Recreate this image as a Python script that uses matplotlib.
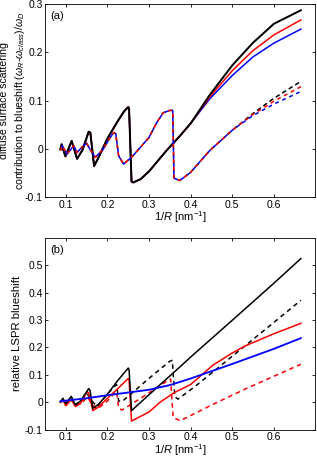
import numpy as np
import matplotlib
matplotlib.use('Agg')
import matplotlib.pyplot as plt

plt.rcParams['font.family'] = ['Liberation Sans', 'DejaVu Sans']
plt.rcParams['font.size'] = 7.5
plt.rcParams['mathtext.fontset'] = 'custom'
plt.rcParams['mathtext.rm'] = 'Liberation Sans'
plt.rcParams['mathtext.it'] = 'Liberation Sans:italic'

# ---------- panel (a): diffuse surface scattering contribution ----------
# solid curves (identical up to 1/R = 0.4)
xa_s = [0.087, 0.090, 0.099, 0.114, 0.127, 0.140, 0.155, 0.159, 0.168, 0.180, 0.200,
        0.225, 0.240, 0.250, 0.252, 0.258, 0.262, 0.280, 0.300, 0.342, 0.374, 0.400,
        0.446, 0.500, 0.549, 0.600, 0.665]
ya_s_common = [0.0, 0.010, -0.015, 0.017, -0.020, -0.002, 0.036, 0.034, -0.035, -0.015, 0.022,
               0.058, 0.078, 0.087, 0.085, -0.067, -0.069, -0.062, -0.046, -0.003, 0.027, 0.053]
ya_s_black_tail = [0.112, 0.173, 0.219, 0.259, 0.287]
ya_s_red_tail = [0.108, 0.162, 0.203, 0.236, 0.267]
ya_s_blue_tail = [0.104, 0.152, 0.190, 0.219, 0.248]

# dashed curves (identical up to 1/R = 0.5)
xa_d = [0.087, 0.091, 0.103, 0.119, 0.127, 0.140, 0.150, 0.158, 0.171, 0.190, 0.205,
        0.215, 0.220, 0.227, 0.239, 0.260, 0.300, 0.318, 0.334, 0.350, 0.357, 0.360,
        0.374, 0.400, 0.446, 0.500, 0.549, 0.600, 0.665]
ya_d_common = [-0.003, 0.007, -0.010, 0.007, -0.007, 0.005, 0.012, 0.0, -0.017, 0.0, 0.022,
               0.034, 0.032, -0.014, -0.031, -0.015, 0.024, 0.054, 0.075, 0.080, 0.080, -0.060,
               -0.065, -0.048, -0.003, 0.039]
ya_d_black_tail = [0.073, 0.105, 0.140]
ya_d_red_tail = [0.071, 0.099, 0.129]
ya_d_blue_tail = [0.069, 0.093, 0.119]

# ---------- panel (b): relative LSPR blueshift ----------
xb_k = [0.087, 0.093, 0.100, 0.113, 0.123, 0.135, 0.155, 0.158, 0.165, 0.180, 0.200,
        0.225, 0.250, 0.252, 0.258, 0.300, 0.374, 0.400, 0.500, 0.600, 0.665]
yb_k = [0.002, 0.015, -0.004, 0.022, -0.010, 0.005, 0.050, 0.045, -0.022, -0.005, 0.030,
        0.080, 0.125, 0.120, -0.030, 0.028, 0.129, 0.165, 0.299, 0.434, 0.524]

xb_kd = [0.087, 0.093, 0.100, 0.113, 0.123, 0.140, 0.152, 0.160, 0.175, 0.200, 0.215,
         0.222, 0.227, 0.235, 0.260, 0.294, 0.330, 0.350, 0.356, 0.362, 0.370, 0.414,
         0.500, 0.600, 0.665]
yb_kd = [0.0, 0.012, -0.005, 0.018, -0.008, 0.010, 0.030, 0.010, -0.015, 0.030, 0.055,
         0.065, 0.005, 0.003, 0.035, 0.080, 0.125, 0.150, 0.153, 0.020, 0.012, 0.062,
         0.168, 0.291, 0.372]

xb_r = [0.087, 0.093, 0.100, 0.113, 0.123, 0.135, 0.151, 0.155, 0.165, 0.180, 0.200,
        0.225, 0.250, 0.252, 0.258, 0.300, 0.326, 0.360, 0.400, 0.453, 0.500, 0.533,
        0.600, 0.665]
yb_r = [0.0, 0.008, -0.012, 0.010, -0.015, -0.005, 0.039, 0.035, -0.030, -0.015, 0.015,
        0.050, 0.087, 0.082, -0.068, -0.035, 0.0, 0.035, 0.065, 0.135, 0.180, 0.207,
        0.250, 0.288]

xb_rd = [0.087, 0.093, 0.100, 0.113, 0.123, 0.140, 0.152, 0.160, 0.175, 0.200, 0.215,
         0.222, 0.227, 0.235, 0.280, 0.320, 0.346, 0.352, 0.358, 0.375, 0.450, 0.533,
         0.600, 0.665]
yb_rd = [0.0, 0.008, -0.012, 0.010, -0.012, 0.0, 0.020, 0.0, -0.025, 0.005, 0.030,
         0.040, -0.020, -0.028, 0.015, 0.055, 0.080, 0.085, -0.055, -0.067, -0.010, 0.050,
         0.095, 0.139]

xb_b = [0.087, 0.150, 0.200, 0.250, 0.300, 0.350, 0.400, 0.500, 0.600, 0.665]
yb_b = [0.004, 0.015, 0.026, 0.036, 0.046, 0.063, 0.087, 0.140, 0.195, 0.234]

xticks = [0.1, 0.2, 0.3, 0.4, 0.5, 0.6]
xticklabels = ['0.1', '0.2', '0.3', '0.4', '0.5', '0.6']
yticks_a = [-0.1, 0, 0.1, 0.2, 0.3]
yticklabels_a = ['-0.1', '0', '0.1', '0.2', '0.3']
yticks_b = [-0.1, 0, 0.1, 0.2, 0.3, 0.4, 0.5]
yticklabels_b = ['-0.1', '0', '0.1', '0.2', '0.3', '0.4', '0.5']

fig = plt.figure(figsize=(3.17, 4.58), dpi=100)
ax1 = fig.add_axes([0.142, 0.5688, 0.853, 0.4225])
ax2 = fig.add_axes([0.142, 0.0615, 0.853, 0.4195])

lw = 1.1

# solid, panel (a)
ax1.plot(xa_s, ya_s_common + ya_s_blue_tail, color='#0000ff', lw=lw)
ax1.plot(xa_s, ya_s_common + ya_s_red_tail, color='#ff0000', lw=lw)
ax1.plot(xa_s, ya_s_common + ya_s_black_tail, color='black', lw=lw * 1.3)

# dashed, panel (a): red and blue dashes interleave
ax1.plot(xa_d, ya_d_common + ya_d_black_tail, color='black', lw=lw, linestyle=(0, (3, 2)))
ax1.plot(xa_d, ya_d_common + ya_d_red_tail, color='#ff0000', lw=lw, linestyle=(0, (2.5, 2.5)))
ax1.plot(xa_d, ya_d_common + ya_d_blue_tail, color='#0000ff', lw=lw, linestyle=(2.5, (2.5, 2.5)))

# panel (b)
ax2.plot(xb_kd, yb_kd, color='black', lw=lw, linestyle=(0, (3, 2.5)))
ax2.plot(xb_rd, yb_rd, color='#ff0000', lw=lw, linestyle=(0, (3, 2.5)))
ax2.plot(xb_r, yb_r, color='#ff0000', lw=lw)
ax2.plot(xb_k, yb_k, color='black', lw=lw)
ax2.plot(xb_b, yb_b, color='#0000ff', lw=lw * 1.2)

for ax in (ax1, ax2):
    ax.set_xlim(0.05, 0.7)
    ax.set_xticks(xticks)
    ax.set_xticklabels(xticklabels)
    ax.tick_params(direction='in', length=2.5, width=0.6, top=True, right=True, pad=1.5)
    for s in ax.spines.values():
        s.set_linewidth(0.6)
    ax.set_xlabel('1/$R$ [nm$^{-1}$]', labelpad=0, fontsize=8)

ax1.set_ylim(-0.1, 0.3)
ax1.set_yticks(yticks_a)
ax1.set_yticklabels(yticklabels_a)
ax2.set_ylim(-0.1, 0.6)
ax2.set_yticks(yticks_b)
ax2.set_yticklabels(yticklabels_b)

ax1.set_ylabel('diffuse surface scattering\n'
               r'contribution to blueshift ($\omega_R$-$\omega_{class}$)/$\omega_D$',
               linespacing=1.4, fontsize=7.6)
ax1.yaxis.set_label_coords(-0.065, 0.5)
ax2.set_ylabel('relative LSPR blueshift', fontsize=8.2)
ax2.yaxis.set_label_coords(-0.085, 0.5)

ax1.text(0.019, 0.938, '(a)', transform=ax1.transAxes, va='center', ha='left', fontsize=8)
ax2.text(0.019, 0.938, '(b)', transform=ax2.transAxes, va='center', ha='left', fontsize=8)

fig.savefig('out.png', dpi=100)
